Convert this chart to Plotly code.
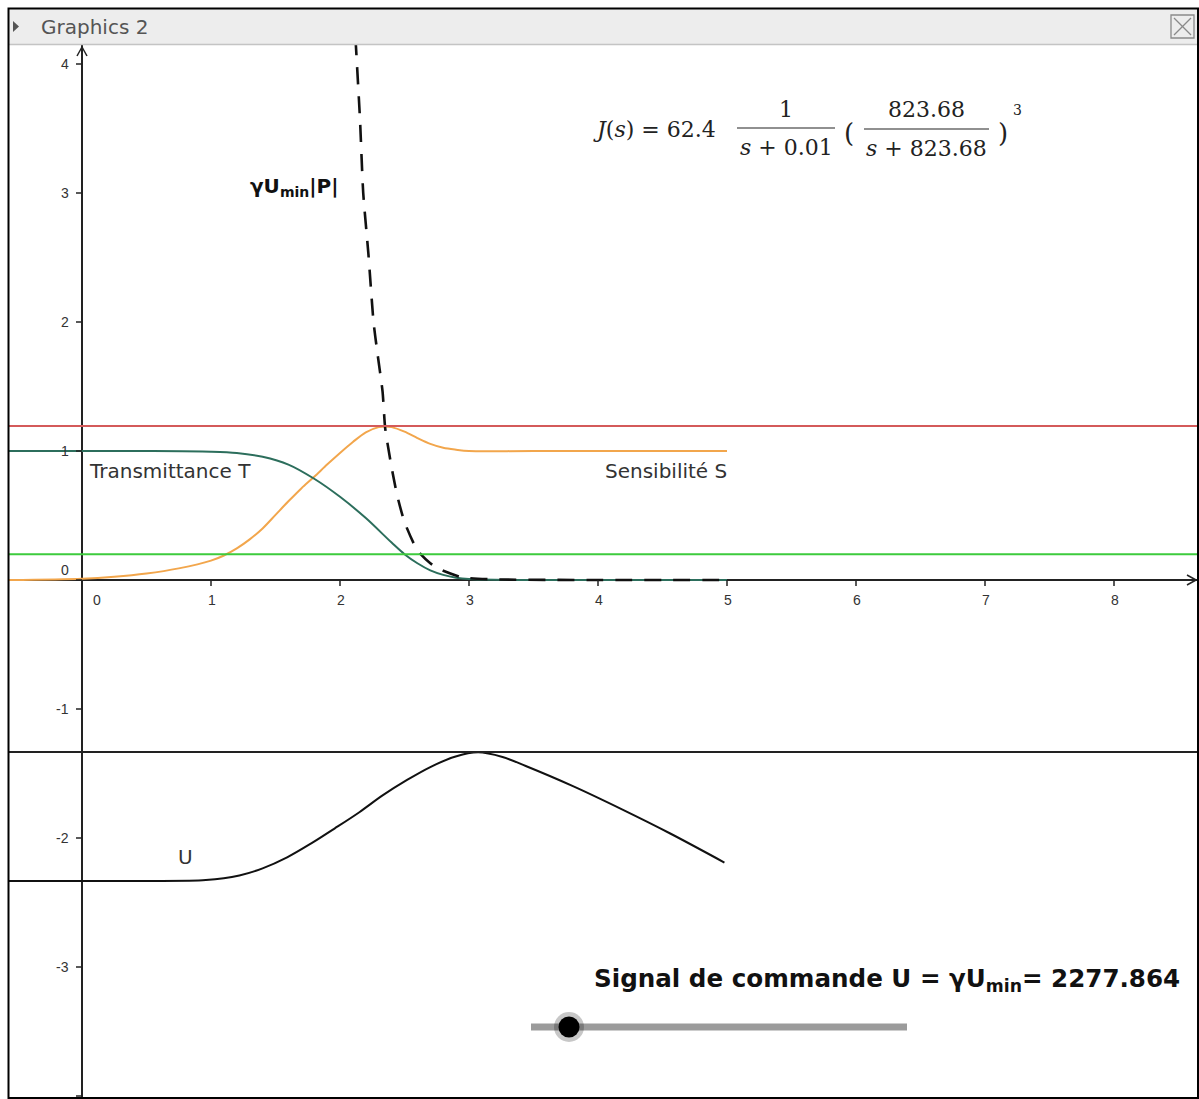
import plotly.graph_objects as go

# ---------------- data ----------------
T_X = [-0.57, 0.0, 0.5, 1.0, 1.2, 1.4, 1.6, 1.8, 2.0, 2.2, 2.4, 2.5, 2.6, 2.7, 2.8, 2.9, 3.0, 3.2, 4.0, 5.0]
T_Y = [1.0, 1.0, 1.0, 0.995, 0.985, 0.955, 0.895, 0.785, 0.645, 0.48, 0.29, 0.2, 0.13, 0.075, 0.04, 0.018, 0.007, 0.001, 0.0, 0.0]

S_X = [-0.57, 0.0, 0.25, 0.5, 0.75, 1.0, 1.1, 1.2, 1.3, 1.4, 1.5, 1.6, 1.7, 1.8, 1.9, 2.0, 2.1, 2.2, 2.3, 2.35, 2.4, 2.5, 2.6, 2.7, 2.8, 2.9, 3.0, 3.5, 5.0]
S_Y = [0.0, 0.01, 0.025, 0.05, 0.09, 0.15, 0.19, 0.245, 0.315, 0.40, 0.505, 0.61, 0.71, 0.80, 0.895, 0.985, 1.07, 1.145, 1.185, 1.19, 1.185, 1.15, 1.10, 1.055, 1.025, 1.01, 1.0, 1.0, 1.0]

P_X = [2.12, 2.155, 2.18, 2.22, 2.26, 2.29, 2.33, 2.35, 2.39, 2.44, 2.50, 2.60, 2.70, 2.78, 2.95, 3.2, 4.0, 5.0]
P_Y = [4.2, 3.57, 3.0, 2.53, 2.0, 1.76, 1.46, 1.18, 0.93, 0.67, 0.45, 0.23, 0.13, 0.08, 0.02, 0.005, 0.0, 0.0]

U_X = [-0.57, 0.0, 0.5, 0.96, 1.22, 1.40, 1.59, 1.78, 1.96, 2.15, 2.33, 2.52, 2.70, 2.89, 3.07, 3.26, 3.44, 3.81, 4.19, 4.56, 4.98]
U_Y = [-2.333, -2.333, -2.333, -2.326, -2.29, -2.235, -2.15, -2.04, -1.925, -1.80, -1.67, -1.55, -1.45, -1.37, -1.336, -1.372, -1.442, -1.60, -1.78, -1.965, -2.19]

RED_LEVEL = 1.194
GREEN_LEVEL = 0.2
U_LEVEL = -1.333

X_TICKS = [0, 1, 2, 3, 4, 5, 6, 7, 8]
X_TICK_LABELS = ["0", "1", "2", "3", "4", "5", "6", "7", "8"]
Y_TICKS = [-3, -2, -1, 0, 1, 2, 3, 4]
Y_TICK_LABELS = ["-3", "-2", "-1", "0", "1", "2", "3", "4"]

SLIDER_TEXT = "Signal de commande U = γU<sub>min</sub>= 2277.864"

# ---------------- geometry (screen pixels) ----------------
W, H = 1199, 1099
PL, PR, PT, PB = 9, 1197, 45, 1097          # plot area in screen pixels
ML, MR, MT, MB = PL, W - PR, PT, H - PB
X0PX, Y0PX, SC = 82, 580, 129.0


def dx(px):
    return (px - X0PX) / SC


def dy(py):
    return (Y0PX - py) / SC


def ppx(px):
    return (px - PL) / (PR - PL)


def ppy(py):
    return (PB - py) / (PB - PT)


XR = [dx(PL), dx(PR)]
YR = [dy(PB), dy(PT)]

fig = go.Figure()

fig.add_trace(go.Scatter(x=S_X, y=S_Y, mode="lines", line=dict(color="#F2A64C", width=2, shape="spline", smoothing=0.9), hoverinfo="skip"))
fig.add_trace(go.Scatter(x=T_X, y=T_Y, mode="lines", line=dict(color="#2C6E5C", width=2, shape="spline", smoothing=0.9), hoverinfo="skip"))
fig.add_trace(go.Scatter(x=U_X, y=U_Y, mode="lines", line=dict(color="#111111", width=2, shape="spline", smoothing=0.9), hoverinfo="skip"))
fig.add_trace(go.Scatter(x=P_X, y=P_Y, mode="lines", line=dict(color="#111111", width=2.6, dash="17px,12px", shape="spline", smoothing=0.6), hoverinfo="skip"))

shapes = []
for lvl, col in [(RED_LEVEL, "#D45A5A"), (GREEN_LEVEL, "#3DCB3D"), (U_LEVEL, "#222222")]:
    shapes.append(dict(type="line", xref="paper", yref="y", x0=0, x1=1, y0=lvl, y1=lvl,
                       line=dict(color=col, width=2), layer="above"))

# tick marks
for t in X_TICKS[1:]:
    shapes.append(dict(type="line", xref="x", yref="y", ysizemode="pixel", yanchor=0,
                       x0=t, x1=t, y0=0, y1=-6, line=dict(color="#222", width=1.5)))
for t in Y_TICKS + [-4]:
    shapes.append(dict(type="line", xref="x", yref="y", xsizemode="pixel", xanchor=0,
                       x0=-6, x1=0, y0=t, y1=t, line=dict(color="#222", width=1.5)))

# axis arrows
xa_tip = dx(1196)
for sgn in (1, -1):
    shapes.append(dict(type="line", xref="x", yref="y", xsizemode="pixel", ysizemode="pixel",
                       xanchor=xa_tip, yanchor=0, x0=-9, x1=0, y0=5 * sgn, y1=0,
                       line=dict(color="#222", width=1.5)))
ya_tip = dy(47)
for sgn in (1, -1):
    shapes.append(dict(type="line", xref="x", yref="y", xsizemode="pixel", ysizemode="pixel",
                       xanchor=0, yanchor=ya_tip, x0=5 * sgn, x1=0, y0=-9, y1=0,
                       line=dict(color="#222", width=1.5)))

# formula fraction bars
shapes.append(dict(type="line", xref="x", yref="y", x0=dx(737), x1=dx(835), y0=dy(128), y1=dy(128),
                   line=dict(color="#222", width=1.2)))
shapes.append(dict(type="line", xref="x", yref="y", x0=dx(864), x1=dx(989), y0=dy(129), y1=dy(129),
                   line=dict(color="#222", width=1.2)))

# title bar
shapes.append(dict(type="rect", xref="paper", yref="paper", x0=ppx(9), x1=ppx(1198), y0=ppy(44), y1=ppy(9),
                   fillcolor="#EDEDED", line=dict(width=0), layer="below"))
shapes.append(dict(type="line", xref="paper", yref="paper", x0=ppx(9), x1=ppx(1198), y0=ppy(44.5), y1=ppy(44.5),
                   line=dict(color="#C4C4C4", width=1.5)))
shapes.append(dict(type="path", xref="paper", yref="paper",
                   path="M %f %f L %f %f L %f %f Z" % (ppx(13), ppy(21), ppx(19), ppy(26.5), ppx(13), ppy(32)),
                   fillcolor="#555555", line=dict(width=0)))
shapes.append(dict(type="rect", xref="paper", yref="paper", x0=ppx(1171), x1=ppx(1194), y0=ppy(38), y1=ppy(15),
                   line=dict(color="#8A8A8A", width=1.3)))
shapes.append(dict(type="line", xref="paper", yref="paper", x0=ppx(1174), x1=ppx(1191), y0=ppy(18), y1=ppy(35),
                   line=dict(color="#8A8A8A", width=1.3)))
shapes.append(dict(type="line", xref="paper", yref="paper", x0=ppx(1174), x1=ppx(1191), y0=ppy(35), y1=ppy(18),
                   line=dict(color="#8A8A8A", width=1.3)))
# outer frame
shapes.append(dict(type="rect", xref="paper", yref="paper", x0=ppx(8.5), x1=ppx(1198), y0=ppy(1098), y1=ppy(8.5),
                   line=dict(color="#000000", width=2)))

# slider
shapes.append(dict(type="line", xref="paper", yref="paper", x0=ppx(531), x1=ppx(907), y0=ppy(1027), y1=ppy(1027),
                   line=dict(color="#9B9B9B", width=7)))
kx, ky = 569, 1027
for r, col in [(15, "rgba(0,0,0,0.22)"), (10.5, "#000000")]:
    shapes.append(dict(type="circle", xref="paper", yref="paper", x0=ppx(kx - r), x1=ppx(kx + r),
                       y0=ppy(ky + r), y1=ppy(ky - r), fillcolor=col, line=dict(width=0)))

annotations = []
tick_font = dict(family="Liberation Sans, Arial, sans-serif", size=14, color="#333333")
for t, lab in zip(X_TICKS, X_TICK_LABELS):
    annotations.append(dict(x=t, y=0, xref="x", yref="y", text=lab, showarrow=False, font=tick_font,
                            xanchor="center", yanchor="middle", xshift=15 if t == 0 else 1, yshift=-20))
for t, lab in zip(Y_TICKS, Y_TICK_LABELS):
    annotations.append(dict(x=0, y=t, xref="x", yref="y", text=lab, showarrow=False, font=tick_font,
                            xanchor="right", yanchor="middle", xshift=-11, yshift=10 if t == 0 else 0))

lab_font = dict(family="DejaVu Sans, sans-serif", size=20, color="#333333")
annotations.append(dict(x=dx(87), y=dy(471), xref="x", yref="y", text="Transmittance T", showarrow=False,
                        font=lab_font, xanchor="left", yanchor="middle"))
annotations.append(dict(x=dx(603), y=dy(471), xref="x", yref="y", text="Sensibilité S", showarrow=False,
                        font=lab_font, xanchor="left", yanchor="middle"))
annotations.append(dict(x=dx(176), y=dy(857), xref="x", yref="y", text="U", showarrow=False,
                        font=lab_font, xanchor="left", yanchor="middle"))
annotations.append(dict(x=dx(248), y=dy(187), xref="x", yref="y", text="γU<sub>min</sub>|P|", showarrow=False,
                        font=dict(family="DejaVu Sans, sans-serif", size=20, color="#111111", weight="bold"),
                        xanchor="left", yanchor="middle"))

# formula
ff = dict(family="DejaVu Serif, serif", size=22, color="#222222")
annotations.append(dict(x=dx(591), y=dy(129), xref="x", yref="y", text="<i>J</i>(<i>s</i>) = 62.4", showarrow=False,
                        font=ff, xanchor="left", yanchor="middle"))
annotations.append(dict(x=dx(786), y=dy(109), xref="x", yref="y", text="1", showarrow=False,
                        font=ff, xanchor="center", yanchor="middle"))
annotations.append(dict(x=dx(786), y=dy(147), xref="x", yref="y", text="<i>s</i> + 0.01", showarrow=False,
                        font=ff, xanchor="center", yanchor="middle"))
annotations.append(dict(x=dx(849), y=dy(133), xref="x", yref="y", text="(", showarrow=False,
                        font=dict(family="DejaVu Serif, serif", size=26, color="#222222"), xanchor="center", yanchor="middle"))
annotations.append(dict(x=dx(926), y=dy(109), xref="x", yref="y", text="823.68", showarrow=False,
                        font=ff, xanchor="center", yanchor="middle"))
annotations.append(dict(x=dx(926), y=dy(148), xref="x", yref="y", text="<i>s</i> + 823.68", showarrow=False,
                        font=ff, xanchor="center", yanchor="middle"))
annotations.append(dict(x=dx(1003), y=dy(133), xref="x", yref="y", text=")", showarrow=False,
                        font=dict(family="DejaVu Serif, serif", size=26, color="#222222"), xanchor="center", yanchor="middle"))
annotations.append(dict(x=dx(1017), y=dy(110), xref="x", yref="y", text="3", showarrow=False,
                        font=dict(family="DejaVu Serif, serif", size=14, color="#222222"),
                        xanchor="center", yanchor="middle"))

# slider caption
annotations.append(dict(x=ppx(592), y=ppy(980), xref="paper", yref="paper", text=SLIDER_TEXT, showarrow=False,
                        font=dict(family="DejaVu Sans, sans-serif", size=24.6, color="#111111", weight="bold"),
                        xanchor="left", yanchor="middle"))

# title bar text
annotations.append(dict(x=ppx(39), y=ppy(27), xref="paper", yref="paper", text="Graphics 2", showarrow=False,
                        font=dict(family="DejaVu Sans, sans-serif", size=20, color="#555555"),
                        xanchor="left", yanchor="middle"))

fig.update_layout(
    width=W, height=H,
    margin=dict(l=ML, r=MR, t=MT, b=MB, pad=0),
    paper_bgcolor="white", plot_bgcolor="white",
    showlegend=False,
    xaxis=dict(range=XR, showgrid=False, showticklabels=False, ticks="", zeroline=True,
               zerolinecolor="#222222", zerolinewidth=1.6, showline=False, fixedrange=True),
    yaxis=dict(range=YR, showgrid=False, showticklabels=False, ticks="", zeroline=True,
               zerolinecolor="#222222", zerolinewidth=1.6, showline=False, fixedrange=True),
    shapes=shapes,
    annotations=annotations,
)

fig.write_html("out.html",
               config=dict(displayModeBar=False, displaylogo=False, staticPlot=True),
               post_script="document.body.style.margin='0';document.body.style.overflow='hidden';")
